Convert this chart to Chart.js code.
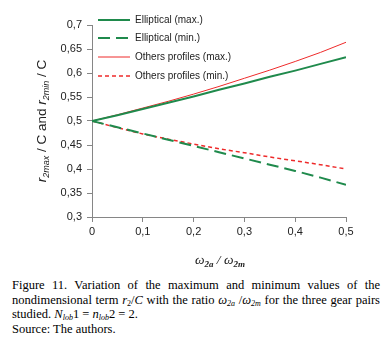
<!DOCTYPE html>
<html>
<head>
<meta charset="utf-8">
<script src="https://cdn.jsdelivr.net/npm/chart.js@4/dist/chart.umd.min.js"></script>
<style>
  body { margin: 0; background: #fff; width: 388px; height: 352px; overflow: hidden; }
  #wrap { position: absolute; left: 0; top: 0; width: 388px; height: 272px; }
  #caption { position: absolute; left: 12px; top: 278px; width: 368px;
    font-family: "Liberation Serif", "Times New Roman", serif; font-size: 12.5px; line-height: 14.5px; color: #000; }
  #caption div { text-align: justify; text-align-last: justify; }
  #caption div.l { text-align-last: left; }
  sub { font-size: 8px; vertical-align: -2px; line-height: 0; }
</style>
</head>
<body>
<div id="wrap"><canvas id="myChart" width="388" height="272"></canvas></div>
<div id="caption">
  <div>Figure 11. Variation of the maximum and minimum values of the</div>
  <div>nondimensional term <i>r</i><sub>2</sub>/<i>C</i> with the ratio <i>&omega;<sub>2a</sub></i> /<i>&omega;<sub>2m</sub></i> for the three gear pairs</div>
  <div class="l">studied. <i>N<sub>lob</sub></i>1 = <i>n<sub>lob</sub></i>2 = 2.</div>
  <div class="l">Source: The authors.</div>
</div>
<script>
// ratio w2a/w2m
var ratio = [0, 0.05, 0.1, 0.15, 0.2, 0.25, 0.3, 0.35, 0.4, 0.45, 0.5];
var ellipticalMax = [0.5, 0.512, 0.525, 0.538, 0.551, 0.565, 0.578, 0.592, 0.605, 0.619, 0.633];
var ellipticalMin = [0.5, 0.487, 0.474, 0.461, 0.448, 0.435, 0.422, 0.409, 0.396, 0.382, 0.367];
var othersMax = [0.5, 0.513, 0.527, 0.541, 0.556, 0.572, 0.589, 0.606, 0.624, 0.643, 0.664];
var othersMin = [0.5, 0.486, 0.473, 0.462, 0.452, 0.442, 0.434, 0.425, 0.417, 0.409, 0.400];
var seriesNames = ["Elliptical (max.)", "Elliptical (min.)", "Others profiles (max.)", "Others profiles (min.)"];

var GREEN = "#1f8a4c";
var RED = "#ee2b2b";
var AXIS = "#868686";

function pts(ys) {
  return ys.map(function(y, i) { return {x: ratio[i], y: y}; });
}
function fmt(v) {
  return String(Number(v.toFixed(2))).replace(".", ",");
}

// legend inside the plot, top left
var legendPlugin = {
  id: "insideLegend",
  afterDraw: function(chart) {
    var ctx = chart.ctx;
    var rows = [20, 38, 57, 76];
    ctx.save();
    chart.data.datasets.forEach(function(ds, i) {
      var y = rows[i];
      ctx.strokeStyle = ds.borderColor;
      ctx.lineWidth = ds.borderWidth;
      ctx.setLineDash(ds.borderDash || []);
      ctx.beginPath();
      ctx.moveTo(98, y);
      ctx.lineTo(130, y);
      ctx.stroke();
      ctx.setLineDash([]);
      ctx.fillStyle = "#222";
      ctx.font = "10px 'Liberation Sans', Arial, sans-serif";
      ctx.textBaseline = "middle";
      ctx.fillText(ds.label, 135, y + 0.5);
    });
    ctx.restore();
  }
};

// axis titles with subscripts
var titlePlugin = {
  id: "axisTitles",
  afterDraw: function(chart) {
    var ctx = chart.ctx;
    ctx.save();
    ctx.fillStyle = "#222";
    ctx.textBaseline = "alphabetic";
    // x title
    var parts = [
      ["italic 13.5px 'Liberation Serif', serif", 0, "\u03c9"],
      ["italic bold 9px 'Liberation Serif', serif", 3, "2a"],
      ["italic 13.5px 'Liberation Serif', serif", 0, " / \u03c9"],
      ["italic bold 9px 'Liberation Serif', serif", 3, "2m"]
    ];
    var w = 0;
    parts.forEach(function(p) { ctx.font = p[0]; w += ctx.measureText(p[2]).width; });
    var x = 220 - w / 2;
    parts.forEach(function(p) {
      ctx.font = p[0];
      ctx.fillText(p[2], x, 264 + p[1]);
      x += ctx.measureText(p[2]).width;
    });
    // y title, rotated
    var yparts = [
      ["italic 13.5px 'Liberation Sans', Arial, sans-serif", 0, "r"],
      ["italic 9px 'Liberation Sans', Arial, sans-serif", 3, "2max"],
      ["13.5px 'Liberation Sans', Arial, sans-serif", 0, " / C and "],
      ["italic 13.5px 'Liberation Sans', Arial, sans-serif", 0, "r"],
      ["italic 9px 'Liberation Sans', Arial, sans-serif", 3, "2min"],
      ["13.5px 'Liberation Sans', Arial, sans-serif", 0, " / C"]
    ];
    w = 0;
    yparts.forEach(function(p) { ctx.font = p[0]; w += ctx.measureText(p[2]).width; });
    ctx.translate(46, 121);
    ctx.rotate(-Math.PI / 2);
    x = -w / 2;
    yparts.forEach(function(p) {
      ctx.font = p[0];
      ctx.fillText(p[2], x, p[1]);
      x += ctx.measureText(p[2]).width;
    });
    ctx.restore();
  }
};

var ctx = document.getElementById("myChart").getContext("2d");
var chart = new Chart(ctx, {
  type: "line",
  data: {
    datasets: [
      {label: seriesNames[0], data: pts(ellipticalMax), borderColor: GREEN, borderWidth: 2},
      {label: seriesNames[1], data: pts(ellipticalMin), borderColor: GREEN, borderWidth: 2, borderDash: [12, 6]},
      {label: seriesNames[2], data: pts(othersMax), borderColor: RED, borderWidth: 1},
      {label: seriesNames[3], data: pts(othersMin), borderColor: RED, borderWidth: 1.5, borderDash: [4, 3]}
    ]
  },
  options: {
    responsive: false,
    animation: false,
    events: [],
    layout: {padding: {left: 0, right: 42, top: 25, bottom: 0}},
    elements: {point: {radius: 0}, line: {tension: 0}},
    plugins: {legend: {display: false}, tooltip: {enabled: false}},
    scales: {
      x: {
        type: "linear", min: 0, max: 0.5,
        afterFit: function(s) { s.height = 55; },
        border: {color: AXIS, width: 1},
        grid: {drawOnChartArea: false, tickLength: 5, color: AXIS},
        ticks: {stepSize: 0.1, padding: 3, color: "#222", callback: fmt,
          font: {family: "'Liberation Sans', Arial, sans-serif", size: 11}}
      },
      y: {
        min: 0.3, max: 0.7,
        afterFit: function(s) { s.width = 92; },
        border: {color: AXIS, width: 1},
        grid: {drawOnChartArea: false, tickLength: 5, color: AXIS},
        ticks: {stepSize: 0.05, padding: 5, color: "#222", callback: fmt,
          font: {family: "'Liberation Sans', Arial, sans-serif", size: 11}}
      }
    }
  },
  plugins: [legendPlugin, titlePlugin]
});
</script>
</body>
</html>
